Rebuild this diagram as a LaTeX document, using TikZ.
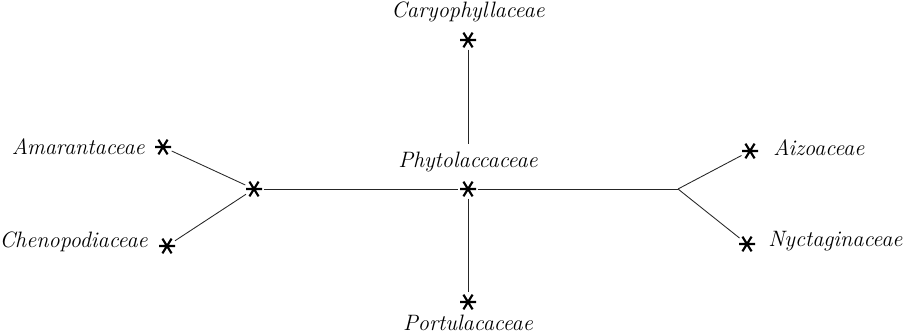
\documentclass[tikz,border=0pt]{standalone}
\usetikzlibrary{calc}
\begin{document}
\begin{tikzpicture}[x=0.75pt,y=-0.75pt,
  lbl/.style={font=\fontsize{16.7}{18}\selectfont\itshape, inner sep=0pt},
  ast/.style={circle, inner sep=0pt, minimum size=14pt,
    path picture={
      \draw[line width=1.6pt]
        ($(path picture bounding box.center)+(0:6pt)$) -- ($(path picture bounding box.center)+(180:6pt)$)
        ($(path picture bounding box.center)+(58:6.5pt)$) -- ($(path picture bounding box.center)+(238:6.5pt)$)
        ($(path picture bounding box.center)+(122:6.5pt)$) -- ($(path picture bounding box.center)+(302:6.5pt)$);
    }},
  con/.style={line width=0.65pt, black!85}
]
\useasboundingbox (0,0) rectangle (908,335);
% stars
\node[ast] (cary) at (468,40) {};
\node[ast] (c) at (468,189) {};
\node[ast] (port) at (468,302) {};
\node[ast] (L) at (254,189) {};
\node[ast] (amar) at (163,147) {};
\node[ast] (cheno) at (167,246) {};
\node[ast] (aizo) at (750,151) {};
\node[ast] (nyct) at (747,244) {};
\coordinate (br) at (678,189);
% labels
\node[lbl] (caryl) at (468,12) {Caryophyllaceae};
\node[lbl, outer sep=6pt] (phytol) at (468,162) {Phytolaccaceae};
\node[lbl] (portl) at (468,323) {Portulacaceae};
\node[lbl, anchor=east] (amarl) at (145,147) {Amarantaceae};
\node[lbl, anchor=east] (chenol) at (148,242) {Chenopodiaceae};
\node[lbl, anchor=west] (aizol) at (773,148) {Aizoaceae};
\node[lbl, anchor=west] (nyctl) at (768,241) {Nyctaginaceae};
% connectors
\draw[con] (cary) -- (phytol.north);
\draw[con] (L) -- (c);
\draw[con] (c) -- (br);
\draw[con] (c) -- (port);
\draw[con] (L) -- (amar);
\draw[con] (L) -- (cheno);
\draw[con] (br) -- (aizo);
\draw[con] (br) -- (nyct);
\end{tikzpicture}
\end{document}
